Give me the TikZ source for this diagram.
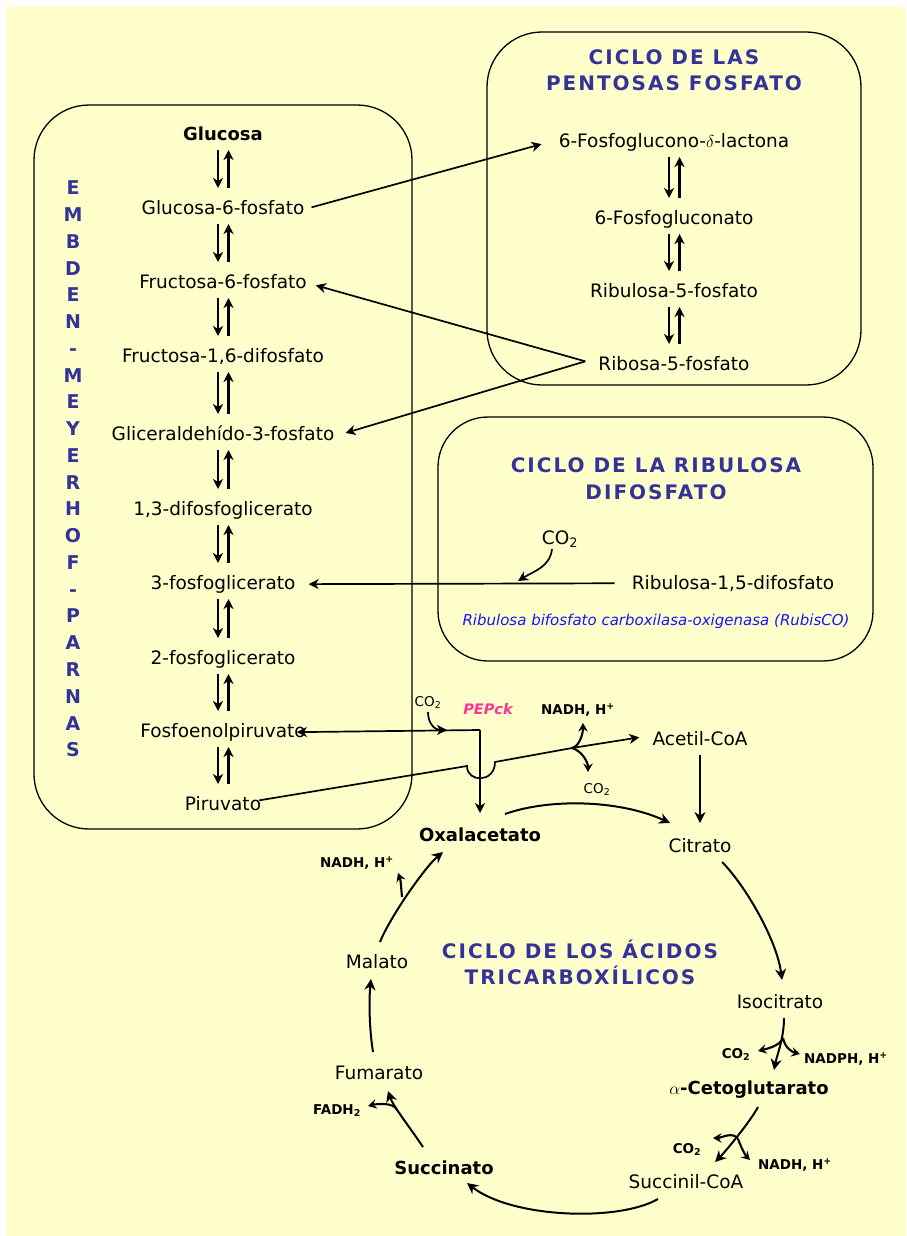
\documentclass[tikz,border=0pt]{standalone}
\usepackage{fontspec}
\setmainfont{DejaVu Sans}
\newfontfamily\titlefont[LetterSpace=10]{DejaVu Sans}
\usepackage{tikz}
\usetikzlibrary{arrows.meta,calc}
\definecolor{bgyellow}{HTML}{FFFFCC}
\definecolor{titleblue}{HTML}{333399}
\definecolor{pepcol}{HTML}{FF3399}
\definecolor{rubblue}{HTML}{1414FF}
\newcommand{\eqarr}[2]{%
  \draw[eqline] ([xshift=-5pt,yshift=-12.5pt]#1.mid) -- ([xshift=-5pt,yshift=23.5pt]#2.mid);
  \draw[eqline] ([xshift=5.5pt,yshift=23.5pt]#2.mid) -- ([xshift=5.5pt,yshift=-12.5pt]#1.mid);}

\begin{document}
\begin{tikzpicture}[x=1pt,y=1pt,
  met/.style={font=\fontsize{18.5}{22}\selectfont,inner sep=1pt,anchor=mid,yshift=-4.5pt},
  metb/.style={met,font=\fontsize{18}{22}\selectfont\bfseries},
  ttl/.style={font=\titlefont\fontsize{20}{26.5}\selectfont\bfseries,text=titleblue,align=center},
  lbl/.style={font=\fontsize{13.5}{16}\selectfont\bfseries,inner sep=1pt,anchor=mid,yshift=-3pt},
  lblr/.style={lbl,font=\fontsize{13.5}{16}\selectfont},
  box/.style={draw,line width=1.3pt,rounded corners=55pt},
  eqline/.style={line width=2.5pt,-{Stealth[length=10pt,width=10pt,inset=3pt]}},
  cross/.style={line width=1.7pt,-{Stealth[length=10pt,width=10pt,inset=3pt]}},
  cyc/.style={line width=2pt,-{Stealth[length=11pt,width=11pt,inset=3.5pt]}},
  sbr/.style={line width=2.1pt,-{Stealth[length=8.5pt,width=9.5pt,inset=3pt]}}]
\useasboundingbox (0,0) rectangle (906,-1236);
\fill[bgyellow] (6,-7) rectangle (906,-1236);

\draw[box] (34,-105) rectangle (412,-829);
\draw[box] (487,-32) rectangle (861,-385);
\draw[box,rounded corners=50pt] (438,-417) rectangle (873,-661);

\node[ttl] (tpent) at (674,-70) {CICLO DE LAS\\PENTOSAS FOSFATO};
\node[ttl] (tribu) at (656,-478.5) {CICLO DE LA RIBULOSA\\DIFOSFATO};
\node[ttl] (ttca) at (580,-962.5) {CICLO DE LOS ÁCIDOS\\TRICARBOXÍLICOS};
\node[font=\fontsize{19}{26.76}\selectfont\bfseries,text=titleblue,align=center] (embden) at (73,-469)
  {E\\M\\B\\D\\E\\N\\-\\M\\E\\Y\\E\\R\\H\\O\\F\\-\\P\\A\\R\\N\\A\\S};

\node[metb] (g1) at (223,-133) {Glucosa};
\node[met] (g2) at (223,-207) {Glucosa-6-fosfato};
\node[met] (g3) at (223,-281) {Fructosa-6-fosfato};
\node[met] (g4) at (223,-355) {Fructosa-1,6-difosfato};
\node[met] (g5) at (223,-433) {Gliceraldehído-3-fosfato};
\node[met] (g6) at (223,-508) {1,3-difosfoglicerato};
\node[met] (g7) at (223,-582) {3-fosfoglicerato};
\node[met] (g8) at (223,-657) {2-fosfoglicerato};
\node[met] (g9) at (223,-730) {Fosfoenolpiruvato};
\node[met] (g10) at (223,-803) {Piruvato};

\node[met] (p1) at (674,-140) {6-Fosfoglucono-$\delta$-lactona};
\node[met] (p2) at (674,-217) {6-Fosfogluconato};
\node[met] (p3) at (674,-290) {Ribulosa-5-fosfato};
\node[met] (p4) at (674,-363) {Ribosa-5-fosfato};

\node[met] (co2r) at (560,-537) {CO\textsubscript{2}};
\node[met] (ribu) at (733,-582) {Ribulosa-1,5-difosfato};
\node[font=\fontsize{15}{18}\selectfont\itshape,text=rubblue] (rubis) at (656,-621)
  {Ribulosa bifosfato carboxilasa-oxigenasa (RubisCO)};

\node[metb] (oxal) at (480,-834) {Oxalacetato};
\node[met] (acet) at (700,-738) {Acetil-CoA};
\node[met] (citr) at (700,-845) {Citrato};
\node[met] (isoc) at (780,-1001) {Isocitrato};
\node[metb] (akg) at (749,-1087) {$\alpha$-Cetoglutarato};
\node[met] (sucoa) at (686,-1181) {Succinil-CoA};
\node[metb] (succ) at (444,-1167) {Succinato};
\node[met] (fum) at (379,-1072) {Fumarato};
\node[met] (mal) at (377,-961) {Malato};

\node[lblr] (co2p) at (428,-701) {CO\textsubscript{2}};
\node[font=\fontsize{14.5}{16}\selectfont\bfseries\itshape,text=pepcol] (pepck) at (488,-709) {PEPck};
\node[lbl] (nadh1) at (578,-709) {NADH, H\textsuperscript{+}};
\node[lblr] (co2a) at (597,-788) {CO\textsubscript{2}};
\node[lbl] (co2i) at (736,-1053) {CO\textsubscript{2}};
\node[lbl] (nadph) at (846,-1058) {NADPH, H\textsuperscript{+}};
\node[lbl] (co2k) at (687,-1148) {CO\textsubscript{2}};
\node[lbl] (nadh2) at (795,-1164) {NADH, H\textsuperscript{+}};
\node[lbl] (fadh) at (337,-1109) {FADH\textsubscript{2}};
\node[lbl] (nadh3) at (357,-862) {NADH, H\textsuperscript{+}};

\eqarr{g1}{g2}
\eqarr{g2}{g3}
\eqarr{g3}{g4}
\eqarr{g4}{g5}
\eqarr{g5}{g6}
\eqarr{g6}{g7}
\eqarr{g7}{g8}
\eqarr{g8}{g9}
\eqarr{g9}{g10}
\eqarr{p1}{p2}
\eqarr{p2}{p3}
\eqarr{p3}{p4}

\draw[cross] ([xshift=6pt]g2.east) -- ([xshift=-16pt,yshift=-2pt]p1.west);
\coordinate (ribo) at ([xshift=-12pt,yshift=2pt]p4.west);
\draw[cross] (ribo) -- ([xshift=8pt,yshift=-4pt]g3.east);
\draw[cross] (ribo) -- ([xshift=10pt]g5.east);

\draw[cross] ([xshift=-16pt]ribu.west) -- ([xshift=12pt]g7.east);
\coordinate (rjoin) at (518,-581);
\draw[cross] ([xshift=-8pt,yshift=-7.5pt]co2r.mid) .. controls +(-2,-18) and +(16,10) .. (rjoin);

\coordinate (pk) at (480,-730);
\coordinate (pkin) at (447,-730);
\draw[cross] (pk) -- ([xshift=-10pt]g9.east);
\draw[cross] (pk) -- ([yshift=25.5pt]oxal.mid);
\draw[cross] ([yshift=-8pt]co2p.mid) .. controls +(0,-12) and +(-12,0) .. (pkin);

\coordinate (hopa) at (467,-766);
\coordinate (hopb) at (495,-762);
\coordinate (br) at (572,-748);
\draw[cross] ([xshift=-3pt,yshift=3pt]g10.east) -- (hopa) .. controls +(0,-17) and +(0,-21) .. (hopb)
  -- (br) -- ([xshift=-12pt,yshift=1pt]acet.west);
\draw[sbr] (br) .. controls +(8,2) and +(0,-10) .. ([xshift=5pt,yshift=-11pt]nadh1.mid);
\draw[sbr] (br) .. controls +(10,-3) and +(0,10) .. ([xshift=-9pt,yshift=19pt]co2a.mid);

\draw[cyc] ([yshift=-12.5pt]acet.mid) -- ([yshift=26.5pt]citr.mid);
\draw[cyc] ([xshift=25pt,yshift=24.5pt]oxal.mid) .. controls +(45,16) and +(-50,23) .. ([xshift=-30pt,yshift=26.5pt]citr.mid);
\draw[cyc] ([xshift=22pt,yshift=-12.5pt]citr.mid) .. controls +(23,-23) and +(-5,40) .. ([xshift=2pt,yshift=25.5pt]isoc.mid);
\draw[cyc] ([xshift=4pt,yshift=-12.5pt]isoc.mid) .. controls +(0,-20) and +(3,15) .. ([xshift=25pt,yshift=21.5pt]akg.mid);
\coordinate (ib) at ([xshift=3pt,yshift=-32.5pt]isoc.mid);
\draw[sbr] (ib) .. controls +(-3,-8) and +(8,2) .. ([xshift=22pt,yshift=5pt]co2i.mid);
\draw[sbr] (ib) .. controls +(2,-10) and +(-8,2) .. ([xshift=-46pt,yshift=7pt]nadph.mid);
\draw[cyc] ([xshift=9pt,yshift=-15.5pt]akg.mid) .. controls +(-8,-15) and +(10,10) .. ([xshift=29pt,yshift=23.5pt]sucoa.mid);
\coordinate (kb) at ([xshift=-11pt,yshift=-47.5pt]akg.mid);
\draw[sbr] (kb) .. controls +(-5,8) and +(8,0) .. ([xshift=26pt,yshift=13pt]co2k.mid);
\draw[sbr] (kb) .. controls +(3,-8) and +(-5,5) .. ([xshift=-45pt,yshift=7pt]nadh2.mid);
\draw[cyc] ([xshift=-28pt,yshift=-13.5pt]sucoa.mid) .. controls +(-40,-23) and +(45,-35) .. ([xshift=23pt,yshift=-11.5pt]succ.mid);
\draw[cyc] ([xshift=-21pt,yshift=24.5pt]succ.mid) .. controls +(-12,18) and +(5,-15) .. ([xshift=9pt,yshift=-14.5pt]fum.mid);
\coordinate (sb) at ([xshift=18pt,yshift=-33.5pt]fum.mid);
\draw[sbr] (sb) .. controls +(-3,8) and +(8,2) .. ([xshift=31pt,yshift=6pt]fadh.mid);
\draw[cyc] ([xshift=-6pt,yshift=24.5pt]fum.mid) .. controls +(-4,25) and +(-2,-20) .. ([xshift=-6pt,yshift=-13.5pt]mal.mid);
\draw[cyc] ([xshift=3pt,yshift=23.5pt]mal.mid) .. controls +(10,25) and +(-18,-15) .. ([xshift=-37pt,yshift=-13.5pt]oxal.mid);
\coordinate (mb) at ([xshift=25pt,yshift=68.5pt]mal.mid);
\draw[sbr] (mb) .. controls +(-1,10) and +(3,-8) .. ([xshift=41pt,yshift=-8pt]nadh3.mid);
\end{tikzpicture}
\end{document}
